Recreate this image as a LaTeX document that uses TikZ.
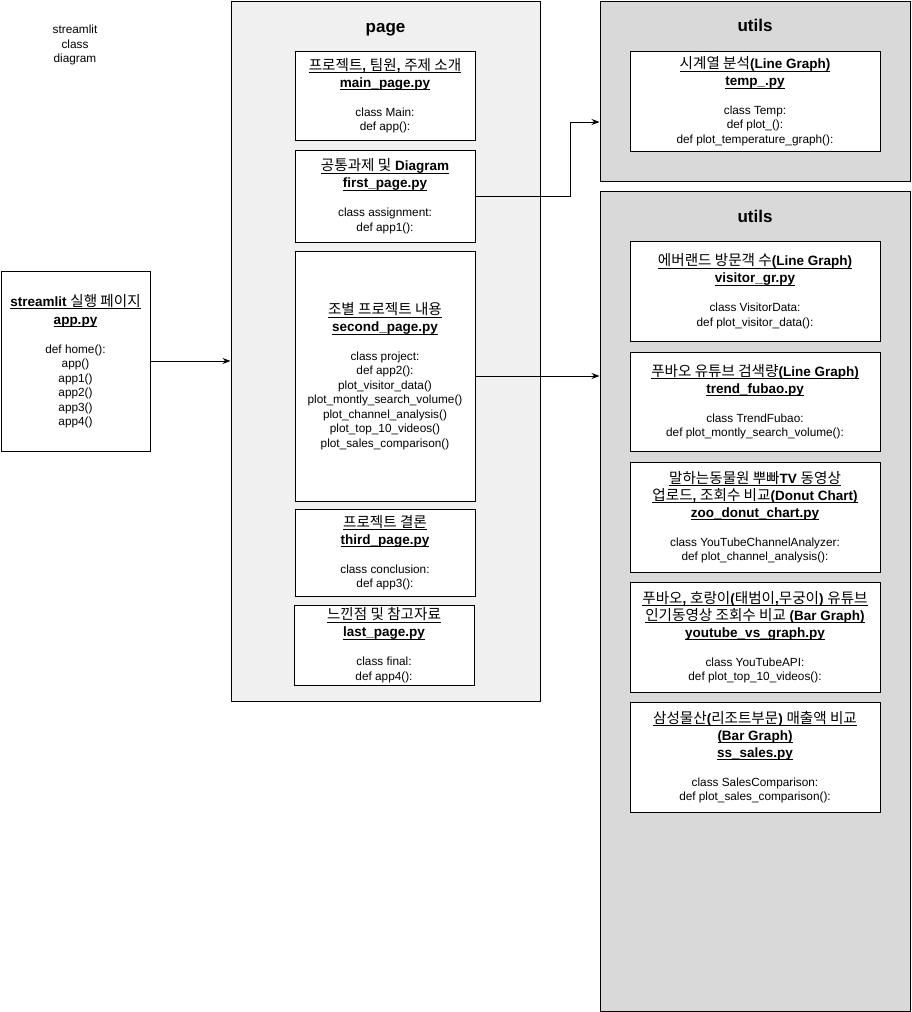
\documentclass[tikz,border=0pt]{standalone}
\usepackage{fontspec}
\setmainfont{Liberation Sans}
\newfontfamily\krfont[Scale=1.08]{Noto Sans CJK KR}
\usetikzlibrary{arrows.meta}
\definecolor{pagegray}{RGB}{240,240,240}
\definecolor{utilgray}{RGB}{217,217,217}
\newcommand\bodyfont{\fontsize{11.8}{14.5}\selectfont}
\newcommand\headfont{\fontsize{13.5}{17}\selectfont\bfseries}
\newcommand\kr[1]{{\krfont\mdseries #1}}
\newcommand\ttl[1]{{\headfont\underline{\raisebox{0pt}[\height][1pt]{#1}}}}
\begin{document}
\begin{tikzpicture}[x=1pt,y=-1pt,
	classbox/.style={shape=rectangle,draw=black,line width=1pt,fill=white,inner sep=0pt,
		minimum width=180pt,align=center,font=\bodyfont,
		execute at begin node={\lineskiplimit=-100pt}},
	utilbox/.style={classbox,minimum width=250pt},
	pkg/.style={shape=rectangle,draw=black,line width=1pt,inner sep=0pt},
	pkgtitle/.style={anchor=base,font=\fontsize{17}{20}\selectfont\bfseries},
	link/.style={-{Stealth[length=8pt,width=6pt]},line width=1pt}]
	\useasboundingbox (0,0) rectangle (911,1012);
	\node[align=center,font=\bodyfont] (caption) at (75,45) {streamlit\\class\\diagram};
	\node[pkg,fill=pagegray,minimum width=309pt,minimum height=700pt] (pagebox) at (385.5,351) {};
	\node[pkg,fill=utilgray,minimum width=310pt,minimum height=180pt] (utils1) at (755,91) {};
	\node[pkg,fill=utilgray,minimum width=310pt,minimum height=820pt] (utils2) at (755,601) {};
	\node[pkgtitle] (pagetitle) at (385.5,32) {page};
	\node[pkgtitle] (utils1title) at (755,31.5) {utils};
	\node[pkgtitle] (utils2title) at (755,222.5) {utils};
	\node[classbox,minimum width=149pt,minimum height=180pt] (app) at (75.5,361)
		{\ttl{streamlit \kr{실행 페이지}}\\[3.5pt]\ttl{app.py}\\[14.5pt]def home():\\app()\\app1()\\app2()\\app3()\\app4()};
	\node[classbox,minimum height=89pt] (mainp) at (385,95.5)
		{\ttl{\kr{프로젝트}, \kr{팀원}, \kr{주제 소개}}\\[2.5pt]\ttl{main\_page.py}\\[14.5pt]class Main:\\def app():};
	\node[classbox,minimum height=92pt] (firstp) at (385,196)
		{\ttl{\kr{공통과제 및} Diagram}\\[2.5pt]\ttl{first\_page.py}\\[14.5pt]class assignment:\\def app1():};
	\node[classbox,minimum height=250pt] (secondp) at (385,376)
		{\ttl{\kr{조별 프로젝트 내용}}\\[2.5pt]\ttl{second\_page.py}\\[14.5pt]class project:\\def app2():\\plot\_visitor\_data()\\plot\_montly\_search\_volume()\\plot\_channel\_analysis()\\plot\_top\_10\_videos()\\plot\_sales\_comparison()};
	\node[classbox,minimum height=87pt] (thirdp) at (385,552.5)
		{\ttl{\kr{프로젝트 결론}}\\[2.5pt]\ttl{third\_page.py}\\[14.5pt]class conclusion:\\def app3():};
	\node[classbox,minimum height=80pt] (lastp) at (384,645)
		{\ttl{\kr{느낀점 및 참고자료}}\\[2.5pt]\ttl{last\_page.py}\\[14.5pt]class final:\\def app4():};
	\node[utilbox,minimum height=100pt] (temp) at (755,101)
		{\ttl{\kr{시계열 분석}(Line Graph)}\\[2.5pt]\ttl{temp\_.py}\\[14.5pt]class Temp:\\def plot\_():\\def plot\_temperature\_graph():};
	\node[utilbox,minimum height=100pt] (visitor) at (755,291)
		{\ttl{\kr{에버랜드 방문객 수}(Line Graph)}\\[2.5pt]\ttl{visitor\_gr.py}\\[14.5pt]class VisitorData:\\def plot\_visitor\_data():};
	\node[utilbox,minimum height=99pt] (trend) at (755,401.5)
		{\ttl{\kr{푸바오 유튜브 검색량}(Line Graph)}\\[2.5pt]\ttl{trend\_fubao.py}\\[14.5pt]class TrendFubao:\\def plot\_montly\_search\_volume():};
	\node[utilbox,minimum height=110pt] (zoo) at (755,517)
		{\ttl{\kr{말하는동물원 뿌빠}TV \kr{동영상}}\\[2.5pt]\ttl{\kr{업로드}, \kr{조회수 비교}(Donut Chart)}\\[2.5pt]\ttl{zoo\_donut\_chart.py}\\[14.5pt]class YouTubeChannelAnalyzer:\\def plot\_channel\_analysis():};
	\node[utilbox,minimum height=110pt] (yt) at (755,637)
		{\ttl{\kr{푸바오}, \kr{호랑이}(\kr{태범이},\kr{무궁이}) \kr{유튜브}}\\[2.5pt]\ttl{\kr{인기동영상 조회수 비교} (Bar Graph)}\\[2.5pt]\ttl{youtube\_vs\_graph.py}\\[14.5pt]class YouTubeAPI:\\def plot\_top\_10\_videos():};
	\node[utilbox,minimum height=110pt] (ss) at (755,757)
		{\ttl{\kr{삼성물산}(\kr{리조트부문}) \kr{매출액 비교}}\\[2.5pt]\ttl{(Bar Graph)}\\[2.5pt]\ttl{ss\_sales.py}\\[14.5pt]class SalesComparison:\\def plot\_sales\_comparison():};
	\coordinate (bend) at (570,122);
	\draw[link] (app.east) -- (app.east -| pagebox.west);
	\draw[link] (firstp.east) -| (bend) -- (bend -| utils1.west);
	\draw[link] (secondp.east) -- (secondp.east -| utils2.west);
\end{tikzpicture}
\end{document}
